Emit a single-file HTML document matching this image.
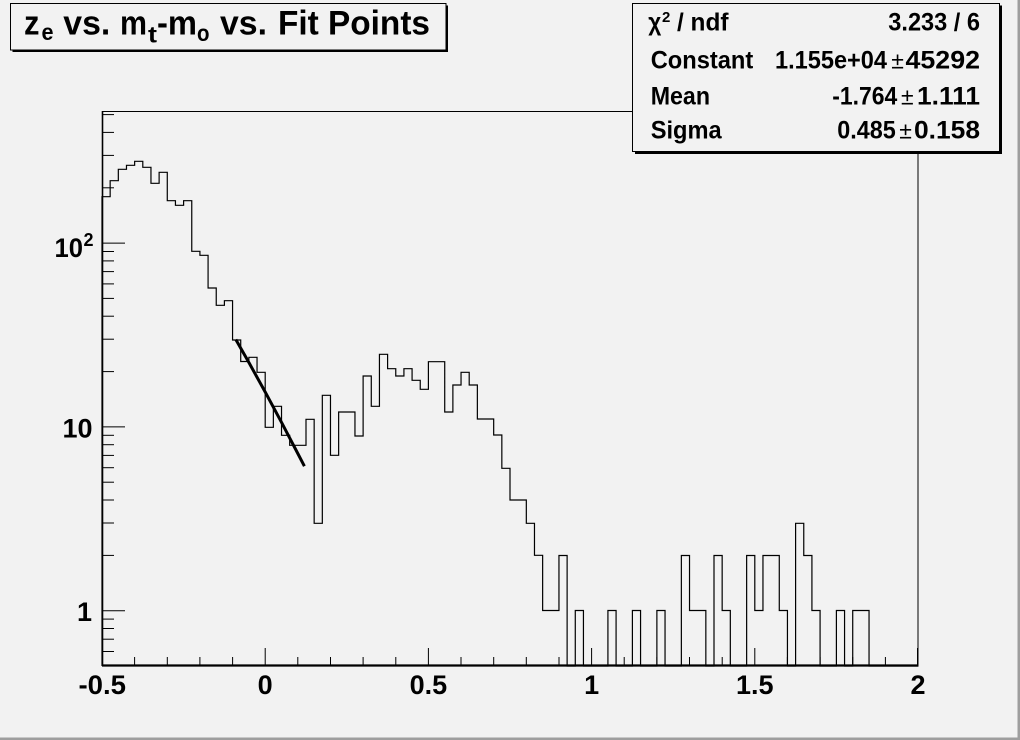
<!DOCTYPE html>
<html>
<head>
<meta charset="utf-8">
<style>
html,body{margin:0;padding:0;background:#f2f2f2;}
svg{display:block;}
text{font-family:"Liberation Sans",Arial,sans-serif;font-weight:bold;fill:#000;}
</style>
</head>
<body>
<svg width="1020" height="740" viewBox="0 0 1020 740" xmlns="http://www.w3.org/2000/svg">
<rect x="0" y="0" width="1020" height="740" fill="#f2f2f2"/>
<!-- canvas bevel -->
<rect x="0" y="737.5" width="1020" height="2.5" fill="#9e9e9e"/>
<rect x="1017.5" y="0" width="2.5" height="740" fill="#9e9e9e"/>

<!-- frame -->
<rect x="102.5" y="111.5" width="815.5" height="554" fill="none" stroke="#000" stroke-width="1"/>

<!-- histogram -->
<path fill="none" stroke="#000" stroke-width="1.2" d="M102,666 V196.7 H110.16 V180.7 H118.32 V169.3 H126.48 V165.3 H134.64 V161.3 H142.8 V167.3 H150.96 V183.3 H159.12 V172.3 H167.28 V200.7 H175.44 V205.3 H183.6 V200.7 H191.76 V251.3 H199.92 V255.3 H208.08 V288 H216.24 V305.3 H224.4 V300.7 H232.56 V340 H240.72 V361.5 H248.88 V357.3 H257.04 V372.3 H265.2 V427.3 H273.36 V406.3 H281.52 V435.3 H289.68 V445.3 H306 V419.3 H314.16 V523.3 H322.32 V395.3 H330.48 V455.3 H338.64 V412 H354.96 V436 H363.12 V376 H371.28 V406.3 H379.44 V354.3 H387.6 V368.7 H395.76 V376 H403.92 V368.7 H412.08 V380.3 H420.24 V389.3 H428.4 V361.7 H444.72 V412 H452.88 V385 H461.04 V372.3 H469.2 V385 H477.36 V419 H493.68 V435 H501.84 V468.3 H510 V500 H526.32 V523.3 H534.48 V555.3 H542.64 V610.5 H558.96 V555.5 H567.12 V666 H575.28 V610.5 H583.44 V666 H607.92 V610.5 H616.08 V666 H632.4 V610.5 H640.56 V666 H656.88 V610.5 H665.04 V666 H681.36 V555.5 H689.52 V610.5 H705.84 V666 H714 V555.5 H722.16 V610.5 H730.32 V666 H746.64 V555.5 H754.8 V610.5 H762.96 V555.5 H779.28 V610.5 H787.44 V666 H795.6 V523.3 H803.76 V555.5 H811.92 V610.5 H820.08 V666 H836.4 V610.5 H844.56 V666 H852.72 V610.5 H869.04 V666 H918"/>

<!-- fit -->
<polyline fill="none" stroke="#000" stroke-width="3" points="235.8,339.5 248.9,362.5 265.2,392 281.5,422.3 297.8,453.5 304.4,466.2"/>

<!-- axes -->
<line x1="102.5" y1="111" x2="102.5" y2="666" stroke="#000" stroke-width="1.6"/>
<line x1="102" y1="665.5" x2="918.5" y2="665.5" stroke="#000" stroke-width="2.2"/>

<!-- x ticks -->
<g stroke="#000" stroke-width="1">
<line x1="102.5" y1="666" x2="102.5" y2="648"/>
<line x1="134.6" y1="666" x2="134.6" y2="657"/>
<line x1="167.3" y1="666" x2="167.3" y2="657"/>
<line x1="199.9" y1="666" x2="199.9" y2="657"/>
<line x1="232.6" y1="666" x2="232.6" y2="657"/>
<line x1="265.2" y1="666" x2="265.2" y2="648"/>
<line x1="297.8" y1="666" x2="297.8" y2="657"/>
<line x1="330.5" y1="666" x2="330.5" y2="657"/>
<line x1="363.1" y1="666" x2="363.1" y2="657"/>
<line x1="395.8" y1="666" x2="395.8" y2="657"/>
<line x1="428.4" y1="666" x2="428.4" y2="648"/>
<line x1="461" y1="666" x2="461" y2="657"/>
<line x1="493.7" y1="666" x2="493.7" y2="657"/>
<line x1="526.3" y1="666" x2="526.3" y2="657"/>
<line x1="559" y1="666" x2="559" y2="657"/>
<line x1="591.6" y1="666" x2="591.6" y2="648"/>
<line x1="624.2" y1="666" x2="624.2" y2="657"/>
<line x1="656.9" y1="666" x2="656.9" y2="657"/>
<line x1="689.5" y1="666" x2="689.5" y2="657"/>
<line x1="722.2" y1="666" x2="722.2" y2="657"/>
<line x1="754.8" y1="666" x2="754.8" y2="648"/>
<line x1="787.4" y1="666" x2="787.4" y2="657"/>
<line x1="820.1" y1="666" x2="820.1" y2="657"/>
<line x1="852.7" y1="666" x2="852.7" y2="657"/>
<line x1="885.4" y1="666" x2="885.4" y2="657"/>
<line x1="917.5" y1="666" x2="917.5" y2="648"/>
</g>

<!-- y ticks -->
<g stroke="#000" stroke-width="1">
<line x1="102" y1="651.5" x2="114" y2="651.5"/>
<line x1="102" y1="639.2" x2="114" y2="639.2"/>
<line x1="102" y1="628.5" x2="114" y2="628.5"/>
<line x1="102" y1="619.1" x2="114" y2="619.1"/>
<line x1="102" y1="610.7" x2="125" y2="610.7"/>
<line x1="102" y1="555.4" x2="114" y2="555.4"/>
<line x1="102" y1="523" x2="114" y2="523"/>
<line x1="102" y1="500" x2="114" y2="500"/>
<line x1="102" y1="482.2" x2="114" y2="482.2"/>
<line x1="102" y1="467.7" x2="114" y2="467.7"/>
<line x1="102" y1="455.4" x2="114" y2="455.4"/>
<line x1="102" y1="444.7" x2="114" y2="444.7"/>
<line x1="102" y1="435.3" x2="114" y2="435.3"/>
<line x1="102" y1="426.9" x2="125" y2="426.9"/>
<line x1="102" y1="371.6" x2="114" y2="371.6"/>
<line x1="102" y1="339.2" x2="114" y2="339.2"/>
<line x1="102" y1="316.2" x2="114" y2="316.2"/>
<line x1="102" y1="298.4" x2="114" y2="298.4"/>
<line x1="102" y1="283.9" x2="114" y2="283.9"/>
<line x1="102" y1="271.6" x2="114" y2="271.6"/>
<line x1="102" y1="260.9" x2="114" y2="260.9"/>
<line x1="102" y1="251.5" x2="114" y2="251.5"/>
<line x1="102" y1="243.1" x2="125" y2="243.1"/>
<line x1="102" y1="187.8" x2="114" y2="187.8"/>
<line x1="102" y1="155.4" x2="114" y2="155.4"/>
<line x1="102" y1="132.4" x2="114" y2="132.4"/>
<line x1="102" y1="114.6" x2="114" y2="114.6"/>
</g>

<!-- x labels -->
<g font-size="27">
<text x="78.5" y="694" textLength="47.5" lengthAdjust="spacingAndGlyphs">-0.5</text>
<text x="265.2" y="694" text-anchor="middle">0</text>
<text x="428.4" y="694" text-anchor="middle">0.5</text>
<text x="591.6" y="694" text-anchor="middle">1</text>
<text x="754.8" y="694" text-anchor="middle">1.5</text>
<text x="918" y="694" text-anchor="middle">2</text>
</g>

<!-- y labels -->
<g font-size="27">
<text x="92" y="621" text-anchor="end">1</text>
<text x="92.5" y="437.5" text-anchor="end">10</text>
<text x="54.5" y="257" textLength="28.5" lengthAdjust="spacingAndGlyphs">10</text>
<text x="83.5" y="246" font-size="18">2</text>
</g>

<!-- title box -->
<rect x="12.5" y="5.5" width="435.5" height="46.5" fill="#000"/>
<rect x="10.5" y="3.5" width="435.5" height="46.5" fill="#f2f2f2" stroke="#000" stroke-width="1"/>
<g font-size="34">
<text x="24" y="34.5" textLength="15.5" lengthAdjust="spacingAndGlyphs">z</text>
<text x="41.5" y="40" font-size="23" textLength="12" lengthAdjust="spacingAndGlyphs">e</text>
<text x="63.3" y="34.5" textLength="47" lengthAdjust="spacingAndGlyphs">vs.</text>
<text x="120" y="34.5" textLength="27" lengthAdjust="spacingAndGlyphs">m</text>
<text x="148" y="42.5" font-size="23" textLength="9" lengthAdjust="spacingAndGlyphs">t</text>
<text x="157" y="34.5" textLength="40" lengthAdjust="spacingAndGlyphs">-m</text>
<text x="197" y="41" font-size="23" textLength="12.5" lengthAdjust="spacingAndGlyphs">o</text>
<text x="220" y="34.5" textLength="47" lengthAdjust="spacingAndGlyphs">vs.</text>
<text x="278" y="34.5" textLength="152" lengthAdjust="spacingAndGlyphs">Fit Points</text>
</g>

<!-- stats box -->
<rect x="635" y="5.5" width="367" height="148.5" fill="#000"/>
<rect x="632.5" y="3.5" width="367" height="148" fill="#f2f2f2" stroke="#000" stroke-width="1"/>
<g font-size="25">
<text x="648.3" y="30.5" textLength="13" lengthAdjust="spacingAndGlyphs">χ</text>
<text x="662" y="22" font-size="15">2</text>
<text x="677" y="30.5" textLength="51.5" lengthAdjust="spacingAndGlyphs">/ ndf</text>
<text x="888.3" y="30.5" textLength="91.7" lengthAdjust="spacingAndGlyphs">3.233 / 6</text>

<text x="650.7" y="68.5" textLength="102.6" lengthAdjust="spacingAndGlyphs">Constant</text>
<text x="775" y="68.5" textLength="112" lengthAdjust="spacingAndGlyphs">1.155e+04</text>
<text x="897.5" y="68.5" text-anchor="middle" font-size="23" style="font-weight:normal">±</text>
<text x="905.5" y="68.5" textLength="74.5" lengthAdjust="spacingAndGlyphs">45292</text>

<text x="650.7" y="104.5" textLength="59.3" lengthAdjust="spacingAndGlyphs">Mean</text>
<text x="832.3" y="104.5" textLength="65" lengthAdjust="spacingAndGlyphs">-1.764</text>
<text x="907.3" y="104.5" text-anchor="middle" font-size="23" style="font-weight:normal">±</text>
<text x="917" y="104.5" textLength="63" lengthAdjust="spacingAndGlyphs">1.111</text>

<text x="650.7" y="138.5" textLength="71" lengthAdjust="spacingAndGlyphs">Sigma</text>
<text x="837.3" y="138.5" textLength="58.5" lengthAdjust="spacingAndGlyphs">0.485</text>
<text x="905.5" y="138.5" text-anchor="middle" font-size="23" style="font-weight:normal">±</text>
<text x="914" y="138.5" textLength="66" lengthAdjust="spacingAndGlyphs">0.158</text>
</g>
</svg>
</body>
</html>
